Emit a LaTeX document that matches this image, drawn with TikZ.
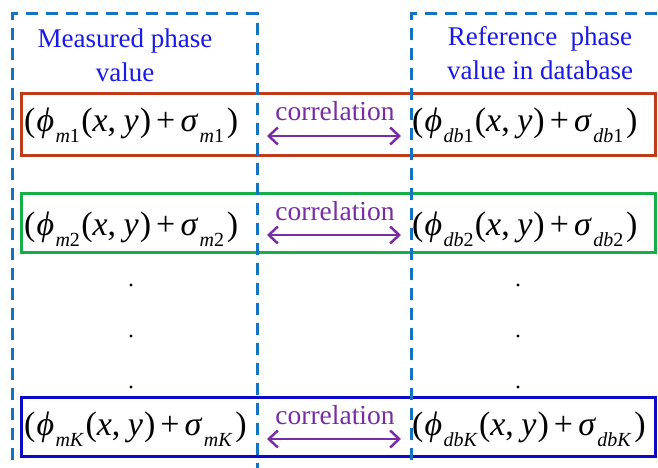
\documentclass[tikz,border=0pt]{standalone}
\usepackage{fontspec}
\setmainfont{Liberation Serif}
\usetikzlibrary{arrows.meta}
\definecolor{dashblue}{RGB}{20,115,195}
\definecolor{boxred}{RGB}{190,60,25}
\definecolor{boxgreen}{RGB}{20,175,70}
\definecolor{boxblue}{RGB}{10,10,200}
\definecolor{headblue}{RGB}{25,25,235}
\definecolor{corrpurple}{RGB}{120,45,165}
\newcommand{\subx}[1]{\kern0.04em\raisebox{-0.32em}{\fontsize{20}{20}\selectfont #1}}
\newcommand{\fm}[2]{(\kern0.03em\textit{ϕ}\subx{#1}\kern0.04em(\textit{x},\kern0.22em\textit{y}\kern0.03em)\kern0.15em+\kern0.15em\textit{σ}\subx{#2}\kern0.08em)}
\tikzset{
  dashbox/.style={draw=dashblue, line width=3pt, dash pattern=on 12pt off 8pt},
  rowbox/.style={draw, line width=3pt, rectangle, inner sep=0pt},
  formula/.style={inner sep=0pt, anchor=west, font=\fontsize{34}{34}\selectfont},
  header/.style={text=headblue, align=center, font=\fontsize{27}{34}\selectfont},
  corrlabel/.style={text=corrpurple, font=\fontsize{27.5}{27.5}\selectfont, inner sep=0pt},
  corrarrow/.style={draw=corrpurple, line width=2.5pt, {Straight Barb[length=9pt,width=17pt]}-{Straight Barb[length=9pt,width=17pt]}},
  dotmark/.style={circle, fill=black, inner sep=0pt, minimum size=3.4pt}
}
\begin{document}
\begin{tikzpicture}[x=1pt,y=-1pt]
\clip (0,0) rectangle (658,468);
\fill[white] (0,0) rectangle (658,468);
% row boxes
\node[rowbox, draw=boxred, minimum width=634pt, minimum height=61pt] (rowA) at (338,124.5) {};
\node[rowbox, draw=boxgreen, minimum width=634pt, minimum height=59pt] (rowB) at (338,222.5) {};
\node[rowbox, draw=boxblue, minimum width=634pt, minimum height=59pt] (rowC) at (338,426.5) {};
% headers
\node[header] (hL) at (125,55) {Measured phase\\value};
\node[header] (hR) at (540,53) {Reference\ \ phase\\value\ in\ database};
% formulas
\node[formula] (mA) at (24,125) {\fm{\textit{m}1}{\textit{m}1}};
\node[formula] (dA) at (412,125) {\fm{\textit{db}1}{\textit{db}1}};
\node[formula] (mB) at (24,229) {\fm{\textit{m}2}{\textit{m}2}};
\node[formula] (dB) at (412,229) {\fm{\textit{db}2}{\textit{db}2}};
\node[formula] (mC) at (24,429) {\fm{\textit{mK}}{\textit{mK}}};
\node[formula] (dC) at (412,429) {\fm{\textit{dbK}}{\textit{dbK}}};
% correlation arrows
\coordinate (aAs) at (267,136); \coordinate (aAe) at (401,136);
\coordinate (aBs) at (267,235); \coordinate (aBe) at (401,235);
\coordinate (aCs) at (267,439); \coordinate (aCe) at (401,439);
\draw[corrarrow] (aAs) -- (aAe);
\draw[corrarrow] (aBs) -- (aBe);
\draw[corrarrow] (aCs) -- (aCe);
\node[corrlabel] (cA) at (335,111) {correlation};
\node[corrlabel] (cB) at (335,211) {correlation};
\node[corrlabel] (cC) at (335,415) {correlation};
% dots
\node[dotmark] (dl1) at (131,285) {};
\node[dotmark] (dl2) at (131,336) {};
\node[dotmark] (dl3) at (131,387) {};
\node[dotmark] (dr1) at (518,285) {};
\node[dotmark] (dr2) at (518,336) {};
\node[dotmark] (dr3) at (518,387) {};
% dashed column boxes
\draw[dashbox] (12,480) -- (12,14) -- (257,14) -- (257,480);
\draw[dashbox] (411,480) -- (411,14) -- (680,14);
\end{tikzpicture}
\end{document}
